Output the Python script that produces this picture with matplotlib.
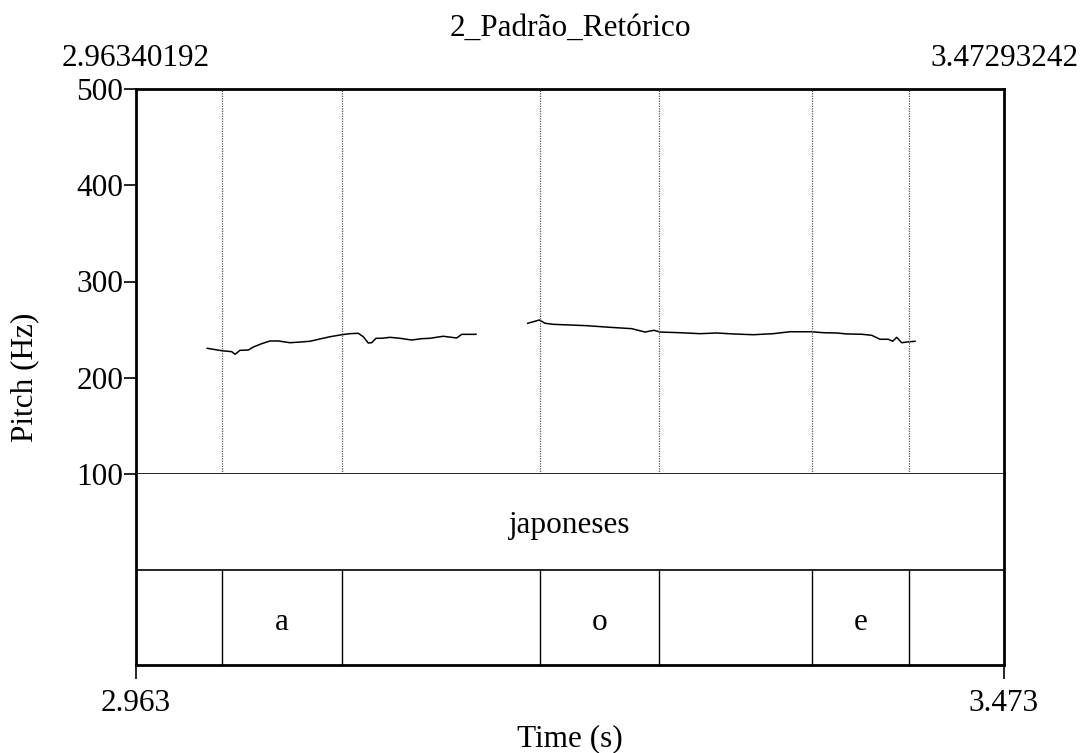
import matplotlib
matplotlib.use('Agg')
import matplotlib.pyplot as plt

plt.rcParams['font.family'] = ['Liberation Serif', 'DejaVu Serif']

t_start = 2.96340192
t_end = 3.47293242
title = "2_Padrão_Retórico"

# pitch contour (s, Hz), two voiced stretches
seg1_t = [3.00525, 3.01371, 3.01958, 3.02152, 3.02445, 3.02932, 3.03226, 3.03719,
          3.04206, 3.04693, 3.05380, 3.05967, 3.06554, 3.07141, 3.07728, 3.08415,
          3.08902, 3.09390, 3.09683, 3.09977, 3.10176, 3.10429, 3.10763, 3.11251,
          3.11838, 3.12524, 3.13111, 3.13599, 3.14379, 3.15166, 3.15460, 3.16299]
seg1_f = [230.6, 228.1, 227.1, 224.4, 228.5, 228.8, 231.9, 235.4,
          238.2, 238.2, 236.4, 237.1, 237.9, 240.3, 242.6, 244.7,
          245.8, 246.2, 242.6, 236.1, 236.4, 241.0, 241.0, 242.0,
          241.0, 239.2, 240.6, 241.0, 243.1, 241.3, 245.1, 245.1]
seg2_t = [3.19334, 3.19663, 3.20015, 3.20350, 3.20837, 3.22797, 3.24165, 3.25439,
          3.26220, 3.26748, 3.27100, 3.28274, 3.29448, 3.30429, 3.31403, 3.32577,
          3.33751, 3.34731, 3.36005, 3.36686, 3.37473, 3.38060, 3.38940, 3.39527,
          3.40015, 3.40502, 3.40760, 3.40995, 3.41288, 3.41582, 3.42070]
seg2_f = [256.6, 258.2, 260.0, 256.6, 255.5, 254.1, 252.4, 251.0,
          247.5, 249.3, 247.5, 246.8, 245.8, 246.5, 245.5, 244.7,
          245.8, 247.8, 247.8, 246.8, 246.5, 245.5, 245.2, 244.1,
          240.0, 240.0, 237.9, 242.0, 236.4, 237.1, 237.9]

# tier 2 interval boundaries and labels
bounds = [3.01389, 3.08433, 3.20056, 3.27041, 3.36023, 3.41717]
vowels = [(3.01389, 3.08433, "a"), (3.20056, 3.27041, "o"), (3.36023, 3.41717, "e")]
word = "japoneses"

yticks = [100, 200, 300, 400, 500]
fs = 22.5

fig = plt.figure(figsize=(10.92, 7.53), dpi=100)
ax = fig.add_axes([136/1092, 1-474/753, 868/1092, 385/753])
tx = fig.add_axes([136/1092, 1-665/753, 868/1092, 191/753])

ax.plot(seg1_t, seg1_f, color='black', lw=1.1)
ax.plot(seg2_t, seg2_f, color='black', lw=1.1)
for b in bounds:
    ax.axvline(b, color='#555555', lw=0.9, ls=(0, (1, 1)))
ax.set_xlim(t_start, t_end)
ax.set_ylim(100, 500)
ax.set_xticks([])
ax.set_yticks(yticks)
ax.set_yticklabels([str(v) for v in yticks], fontsize=fs)
ax.tick_params(axis='y', length=9, width=1.2, pad=0)
for s in ['left', 'top', 'right']:
    ax.spines[s].set_linewidth(2)
ax.spines['bottom'].set_linewidth(1.2)
ax.set_ylabel("Pitch (Hz)", fontsize=fs)
ax.yaxis.set_label_coords(-0.111, 0.25, transform=ax.transAxes)

tx.set_xlim(t_start, t_end)
tx.set_ylim(0, 2)
tx.axhline(1, color='black', lw=1.2)
for b in bounds:
    tx.plot([b, b], [0, 1], color='black', lw=1)
tx.text((t_start + t_end) / 2, 1.46, word, fontsize=fs, ha='center', va='center')
for a, b, lab in vowels:
    tx.text((a + b) / 2, 0.45, lab, fontsize=fs, ha='center', va='center')
tx.set_yticks([])
tx.set_xticks([t_start, t_end])
tx.set_xticklabels(["2.963", "3.473"], fontsize=fs)
tx.tick_params(axis='x', length=10, width=1.2, pad=7)
for s in ['left', 'bottom', 'right']:
    tx.spines[s].set_linewidth(2)
tx.spines['top'].set_visible(False)
tx.set_xlabel("Time (s)", fontsize=fs, labelpad=5)

fig.text(136/1092, 1-58/753, "%.8f" % t_start, fontsize=fs, ha='center', va='center')
fig.text(1004/1092, 1-58/753, "%.8f" % t_end, fontsize=fs, ha='center', va='center')
fig.text(570/1092, 1-28/753, title, fontsize=fs, ha='center', va='center')

fig.savefig('out.png', dpi=100)
